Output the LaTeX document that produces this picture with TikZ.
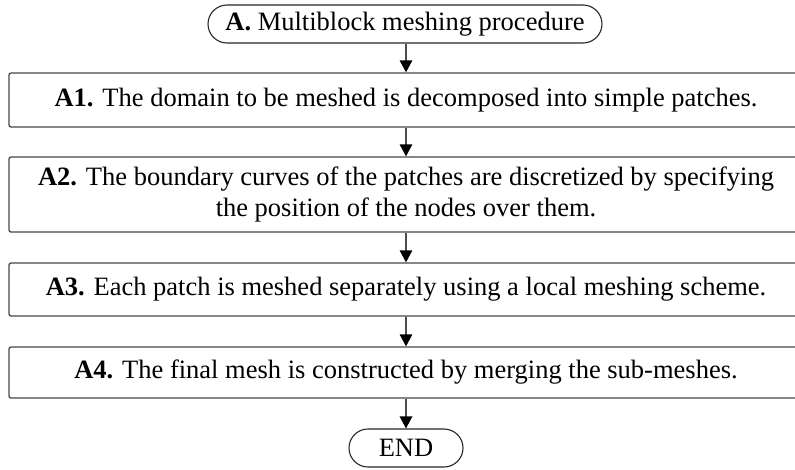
\documentclass[tikz,border=0pt]{standalone}
\usepackage{fontspec}
\setmainfont{Liberation Serif}
\usetikzlibrary{arrows.meta}
\begin{document}
\begin{tikzpicture}[x=1pt,y=-1pt,
  txt/.style={font=\fontsize{26.5}{31.8}\selectfont, align=center, inner sep=0pt},
  box/.style={txt, draw=black!72, line width=1.3pt, rounded corners=2pt, minimum width=794pt},
  term/.style={txt, draw=black!85, line width=1.1pt, rounded corners=19pt, minimum height=38pt},
  arr/.style={draw=black!70, line width=1.3pt, -{Triangle[length=12pt,width=12.5pt,color=black]}}]
\path[use as bounding box, clip] (0,0) rectangle (795,469);
\node[term, minimum width=394pt] (top) at (405,24) {\textbf{A.} Multiblock meshing procedure};
\node[box, minimum height=54pt] (a1) at (406,100) {\textbf{A1.} The domain to be meshed is decomposed into simple patches.};
\node[box, minimum height=75pt] (a2) at (406,194.5) {\textbf{A2.} The boundary curves of the patches are discretized by specifying\\the position of the nodes over them.};
\node[box, minimum height=53pt] (a3) at (406,289.5) {\textbf{A3.} Each patch is meshed separately using a local meshing scheme.};
\node[box, minimum height=51pt] (a4) at (406,372.5) {\textbf{A4.} The final mesh is constructed by merging the sub-meshes.};
\node[term, minimum width=114pt] (end) at (406,448) {END};
\draw[arr] (top.south -| a1.north) -- (a1.north);
\draw[arr] (a1) -- (a2);
\draw[arr] (a2) -- (a3);
\draw[arr] (a3) -- (a4);
\draw[arr] (a4) -- (end);
\end{tikzpicture}
\end{document}
